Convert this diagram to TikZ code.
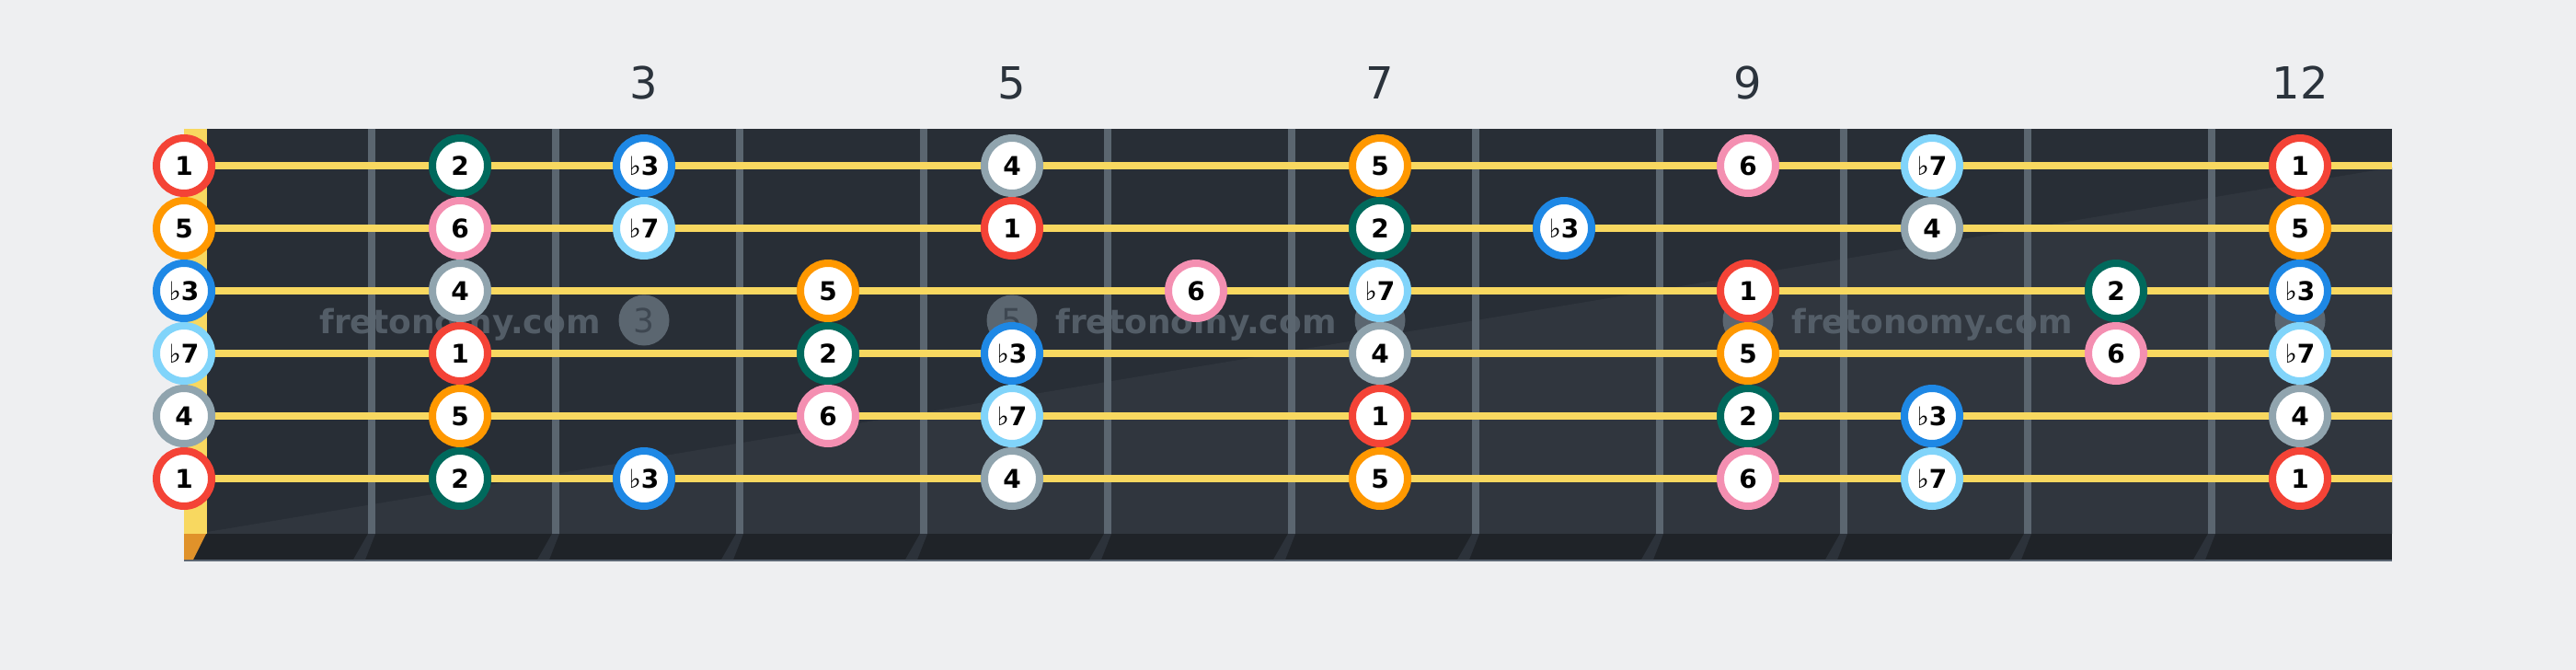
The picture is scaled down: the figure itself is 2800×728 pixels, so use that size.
\documentclass[tikz,border=0pt]{standalone}
\usepackage{fontspec}
\setmainfont{DejaVu Sans}
\usetikzlibrary{calc}
\definecolor{bg}{HTML}{EEEFF1}
\definecolor{board}{HTML}{282E36}
\definecolor{boardlight}{HTML}{30363E}
\definecolor{strip}{HTML}{1F2328}
\definecolor{stripline}{HTML}{5A6572}
\definecolor{fretc}{HTML}{5B6670}
\definecolor{fretext}{HTML}{2C323A}
\definecolor{stringc}{HTML}{F8D860}
\definecolor{nutbot}{HTML}{E0922A}
\definecolor{wm}{HTML}{5B6670}
\definecolor{wmdark}{HTML}{3E4751}
\definecolor{labelc}{HTML}{2B333C}
\definecolor{cI}{HTML}{F44336}
\definecolor{cII}{HTML}{00695C}
\definecolor{cIII}{HTML}{1E88E5}
\definecolor{cIV}{HTML}{90A4AE}
\definecolor{cV}{HTML}{FF9800}
\definecolor{cVI}{HTML}{F48FB1}
\definecolor{cVII}{HTML}{81D4FA}
\newcommand\myflat{{\mdseries ♭}}
\begin{document}
\begin{tikzpicture}[x=0.5pt,y=-0.5pt,
  note/.style={circle, draw=#1, line width=4pt, fill=white, minimum size=30pt,
    inner sep=0pt, text height=10.2pt, text depth=0pt, text=black,
    font=\fontsize{14}{14}\selectfont\bfseries},
  fretlabel/.style={inner sep=0pt, text height=17.5pt, text depth=0pt, text=labelc,
    font=\fontsize{24}{24}\selectfont},
  wmtext/.style={anchor=base, inner sep=0pt, text=wm, opacity=0.85,
    font=\fontsize{18}{18}\selectfont\bfseries},
  wmdot/.style={circle, fill=fretc, minimum size=27.5pt, inner sep=0pt,
    text height=13pt, text depth=0pt, text=wmdark, font=\fontsize{18}{18}\selectfont},
  stringline/.style={draw=stringc, line width=4pt},
  fretwire/.style={draw=fretc, line width=4pt}]
\useasboundingbox (0,0) rectangle (2800,728);
\fill[bg] (0,0) rectangle (2800,728);
% board
\fill[board] (225,140) rectangle (2600,580);
\fill[boardlight] (225,578) -- (2600,182) -- (2600,580) -- (225,580) -- cycle;
% bottom strip
\fill[strip] (200,580) rectangle (2600,608);
\draw[stripline, line width=1pt] (200,608.5) -- (2600,608.5);
% nut
\fill[stringc] (200,140) rectangle (225,580);
\fill[nutbot] (200,580) -- (224,580) -- (210,608) -- (200,608) -- cycle;
% frets
\foreach \k in {0,...,10}{
  \pgfmathsetmacro\fx{404+200*\k}
  \draw[fretwire] (\fx,140) -- (\fx,580);
  \fill[fretext] (\fx-4,580) -- (\fx+4,580) -- (\fx-7,608) -- (\fx-20,608) -- cycle;
}
% watermark
\node[wmtext] (wm1) at (500,362) {fretonomy.com};
\node[wmtext] (wm2) at (1300,362) {fretonomy.com};
\node[wmtext] (wm3) at (2100,362) {fretonomy.com};
\node[wmdot] (d3) at (700,348) {3};
\node[wmdot] (d5) at (1100,348) {5};
\node[wmdot] (d7) at (1500,348) {};
\node[wmdot] (d9) at (1900,348) {};
\node[wmdot] (d12) at (2500,348) {};
% strings
\foreach \st in {1,...,6}{
  \pgfmathsetmacro\sy{180+68*(\st-1)}
  \draw[stringline] (225,\sy) -- (2600,\sy);
}
% fret labels
\node[fretlabel] (l3) at (700,90) {3};
\node[fretlabel] (l5) at (1100,90) {5};
\node[fretlabel] (l7) at (1500,90) {7};
\node[fretlabel] (l9) at (1900,90) {9};
\node[fretlabel] (l12) at (2500,90) {12};
% notes
\foreach \st/\fr/\lab/\col in {
  1/0/1/cI, 1/2/2/cII, 1/3/\myflat3/cIII, 1/5/4/cIV, 1/7/5/cV, 1/9/6/cVI, 1/10/\myflat7/cVII, 1/12/1/cI,
  2/0/5/cV, 2/2/6/cVI, 2/3/\myflat7/cVII, 2/5/1/cI, 2/7/2/cII, 2/8/\myflat3/cIII, 2/10/4/cIV, 2/12/5/cV,
  3/0/\myflat3/cIII, 3/2/4/cIV, 3/4/5/cV, 3/6/6/cVI, 3/7/\myflat7/cVII, 3/9/1/cI, 3/11/2/cII, 3/12/\myflat3/cIII,
  4/0/\myflat7/cVII, 4/2/1/cI, 4/4/2/cII, 4/5/\myflat3/cIII, 4/7/4/cIV, 4/9/5/cV, 4/11/6/cVI, 4/12/\myflat7/cVII,
  5/0/4/cIV, 5/2/5/cV, 5/4/6/cVI, 5/5/\myflat7/cVII, 5/7/1/cI, 5/9/2/cII, 5/10/\myflat3/cIII, 5/12/4/cIV,
  6/0/1/cI, 6/2/2/cII, 6/3/\myflat3/cIII, 6/5/4/cIV, 6/7/5/cV, 6/9/6/cVI, 6/10/\myflat7/cVII, 6/12/1/cI}{
  \pgfmathsetmacro\nx{\fr==0 ? 200 : 100+200*\fr}
  \pgfmathsetmacro\ny{180+68*(\st-1)}
  \node[note=\col] (n-\st-\fr) at (\nx,\ny) {\lab};
}
\end{tikzpicture}
\end{document}
